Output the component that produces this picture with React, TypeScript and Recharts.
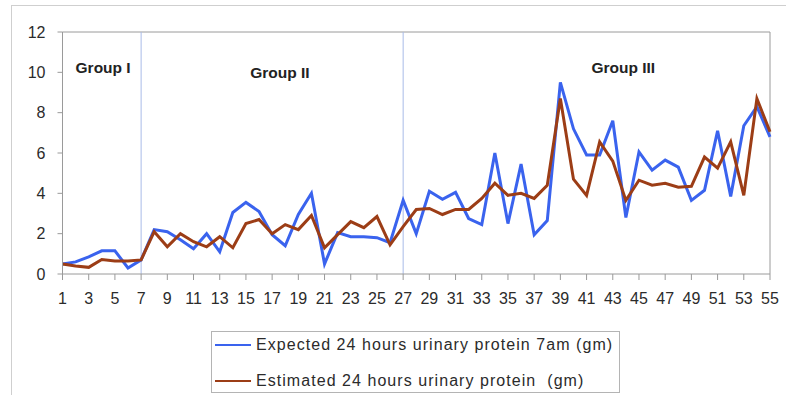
import React from 'react';
import { LineChart, Line, XAxis, YAxis, ReferenceLine, ReferenceDot } from 'recharts';

const COLORS = {
  expected: '#3a63ee',
  estimated: '#9c3d16',
  divider: '#a9bbe8',
  frame: '#9a9a9a',
  text: '#2b2b2b',
};

const FONT = '"Liberation Sans", Arial, sans-serif';

// patient number 1..55
const patients = [
  1, 2, 3, 4, 5, 6, 7, 8, 9, 10, 11, 12, 13, 14, 15, 16, 17, 18, 19, 20,
  21, 22, 23, 24, 25, 26, 27, 28, 29, 30, 31, 32, 33, 34, 35, 36, 37, 38, 39, 40,
  41, 42, 43, 44, 45, 46, 47, 48, 49, 50, 51, 52, 53, 54, 55,
];

// expected 24 hours urinary protein from 7am sample (gm)
const expected = [
  0.5, 0.6, 0.85, 1.15, 1.15, 0.3, 0.7, 2.2, 2.1, 1.7,
  1.25, 2.0, 1.1, 3.05, 3.55, 3.1, 1.95, 1.4, 2.95, 4.0,
  0.5, 2.05, 1.85, 1.85, 1.8, 1.55, 3.65, 2.0, 4.1, 3.7,
  4.05, 2.75, 2.45, 6.0, 2.5, 5.45, 1.95, 2.65, 9.5, 7.2,
  5.9, 5.9, 7.6, 2.8, 6.05, 5.15, 5.65, 5.3, 3.65, 4.15,
  7.1, 3.85, 7.35, 8.3, 6.8,
];

// estimated 24 hours urinary protein (gm)
const estimated = [
  0.5, 0.4, 0.33, 0.72, 0.65, 0.65, 0.7, 2.1, 1.35, 2.0,
  1.6, 1.35, 1.85, 1.3, 2.5, 2.7, 2.0, 2.45, 2.2, 2.9,
  1.3, 1.95, 2.6, 2.3, 2.85, 1.45, 2.35, 3.2, 3.25, 2.95,
  3.2, 3.2, 3.75, 4.5, 3.9, 4.0, 3.75, 4.4, 8.7, 4.7,
  3.9, 6.55, 5.6, 3.65, 4.65, 4.4, 4.5, 4.3, 4.35, 5.8,
  5.25, 6.55, 3.9, 8.7, 7.05,
];

const xTicks = [1, 3, 5, 7, 9, 11, 13, 15, 17, 19, 21, 23, 25, 27, 29, 31, 33, 35, 37, 39, 41, 43, 45, 47, 49, 51, 53, 55];
const yTicks = [0, 2, 4, 6, 8, 10, 12];

// group boundaries (patient number)
const groupDividers = [7, 27];
const groupLabels = ['Group I', 'Group II', 'Group III'];
const groupLabelAt = [
  { x: 4.1, y: 10.25 },
  { x: 17.6, y: 10.0 },
  { x: 43.8, y: 10.25 },
];

const data = patients.map((p, i) => ({ patient: p, expected: expected[i], estimated: estimated[i] }));

const tickStyle = { fill: COLORS.text, fontFamily: FONT, fontSize: 16 };

const LegendBox = () => (
  <div
    style={{
      position: 'absolute',
      left: 211,
      top: 331,
      width: 407,
      height: 60,
      border: '1px solid #b4b4b4',
      background: '#fff',
      fontFamily: FONT,
      fontSize: 16,
      letterSpacing: 1.05,
      color: COLORS.text,
    }}
  >
    {[
      { label: 'Expected 24 hours urinary protein 7am (gm)', color: COLORS.expected },
      { label: 'Estimated 24 hours urinary protein  (gm)', color: COLORS.estimated },
    ].map((item, i) => (
      <div
        key={item.label}
        style={{ position: 'absolute', left: 3, top: i === 0 ? 3 : 39, height: 20, display: 'flex', alignItems: 'center', whiteSpace: 'pre' }}
      >
        <span style={{ display: 'inline-block', width: 36, height: 2.5, background: item.color, marginRight: 5 }} />
        <span>{item.label}</span>
      </div>
    ))}
  </div>
);

export default function App() {
  return (
    <div style={{ position: 'absolute', left: 0, top: 0, width: 786, height: 395, overflow: 'hidden', background: '#fff' }}>
      {/* outer chart frame, right and bottom run off the picture */}
      <div style={{ position: 'absolute', left: 11, top: 5, width: 820, height: 420, border: '1px solid #cfcfcf' }} />
      <div style={{ position: 'absolute', left: 0, top: 0 }}>
        <LineChart width={786} height={395} data={data} margin={{ top: 32, right: 16, bottom: 91, left: 12 }}>
          <XAxis
            dataKey="patient"
            type="number"
            domain={[1, 55]}
            ticks={xTicks}
            interval={0}
            stroke={COLORS.frame}
            tickSize={6}
            tickMargin={13}
            height={30}
            tick={tickStyle}
          />
          <YAxis
            type="number"
            domain={[0, 12]}
            ticks={yTicks}
            stroke={COLORS.frame}
            tickSize={5}
            tickMargin={12}
            width={50.5}
            tick={tickStyle}
          />
          <ReferenceLine y={12} stroke={COLORS.frame} />
          <ReferenceLine x={55} stroke={COLORS.frame} />
          {groupDividers.map((g) => (
            <ReferenceLine key={g} x={g} stroke={COLORS.divider} strokeWidth={1} />
          ))}
          {groupLabels.map((label, i) => (
            <ReferenceDot
              key={label}
              x={groupLabelAt[i].x}
              y={groupLabelAt[i].y}
              r={0}
              fill="none"
              stroke="none"
              label={{ value: label, position: 'center', fill: '#222', fontFamily: FONT, fontSize: 15.5, fontWeight: 700 }}
            />
          ))}
          <Line
            dataKey="expected"
            stroke={COLORS.expected}
            strokeWidth={3}
            dot={false}
            activeDot={false}
            isAnimationActive={false}
          />
          <Line
            dataKey="estimated"
            stroke={COLORS.estimated}
            strokeWidth={3}
            dot={false}
            activeDot={false}
            isAnimationActive={false}
          />
        </LineChart>
      </div>
      <LegendBox />
    </div>
  );
}
